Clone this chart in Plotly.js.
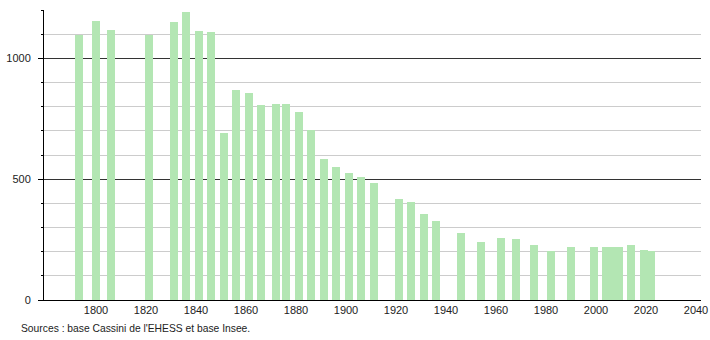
<!DOCTYPE html>
<html>
<head>
<meta charset="utf-8">
<script src="https://cdn.plot.ly/plotly-3.0.1.min.js"></script>
<style>
html,body{margin:0;padding:0;background:#fff;}
#chart{width:710px;height:340px;}
</style>
</head>
<body>
<div id="chart"></div>
<script>
const years = [1793,1800,1806,1821,1831,1836,1841,1846,1851,1856,1861,1866,1872,1876,1881,1886,1891,1896,1901,1906,1911,1921,1926,1931,1936,1946,1954,1962,1968,1975,1982,1990,1999,2004,2006,2009,2014,2019,2022];
const population = [1096,1154,1118,1096,1151,1193,1113,1110,690,871,855,805,809,809,776,703,583,549,527,510,485,417,405,356,327,277,240,256,252,228,203,219,220,220,220,218,228,207,204];
const xTickVals = [1800,1820,1840,1860,1880,1900,1920,1940,1960,1980,2000,2020,2040];
const yTickVals = [0,500,1000];
const sourceText = "Sources : base Cassini de l'EHESS et base Insee.";

const trace = {
  type: 'bar',
  x: years,
  y: population,
  width: 3.2,
  marker: {color: 'rgb(179,230,179)', line: {width: 0}},
  hoverinfo: 'x+y'
};

const layout = {
  width: 710, height: 340,
  margin: {l: 44, r: 9, t: 10, b: 40},
  paper_bgcolor: '#fff', plot_bgcolor: '#fff',
  showlegend: false,
  bargap: 0,
  font: {family: '"Liberation Sans", Arial, sans-serif', size: 11, color: '#222'},
  xaxis: {
    range: [1779.2, 2042],
    tickmode: 'array', tickvals: xTickVals,
    ticks: '', showgrid: false, zeroline: false,
    showline: true, linecolor: '#000', linewidth: 1,
    tickfont: {size: 11, color: '#222'},
    fixedrange: true
  },
  yaxis: {
    range: [0, 1200],
    tickmode: 'array', tickvals: yTickVals,
    ticks: 'outside', ticklen: 5, tickcolor: '#000', tickwidth: 1,
    showgrid: true, gridcolor: '#333', gridwidth: 1,
    zeroline: false,
    showline: true, linecolor: '#000', linewidth: 1,
    ticklabelstandoff: 5,
    tickfont: {size: 11, color: '#222'},
    minor: {dtick: 100, tick0: 0, showgrid: true, gridcolor: '#cccccc', gridwidth: 1, ticks: 'outside', ticklen: 2, tickcolor: '#000'},
    fixedrange: true
  },
  annotations: [{
    text: sourceText, xref: 'paper', yref: 'paper',
    x: -25/657, y: -21/290, xanchor: 'left', yanchor: 'top',
    showarrow: false, font: {size: 10.3, color: '#222'}
  }]
};

Plotly.newPlot('chart', [trace], layout, {displayModeBar: false, staticPlot: true});
</script>
</body>
</html>
